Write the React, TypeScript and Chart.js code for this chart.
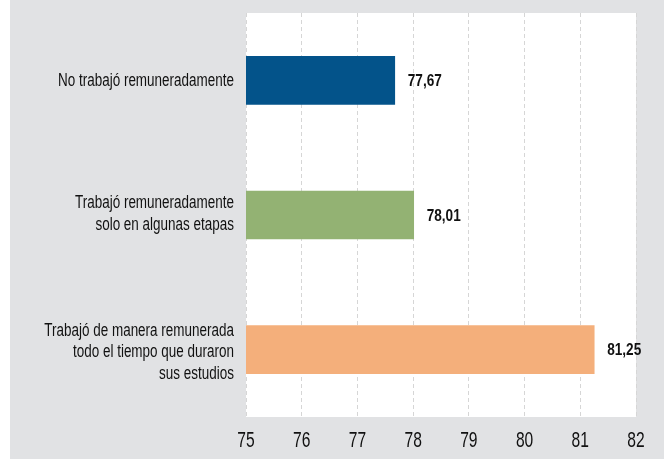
import React, { useEffect, useRef } from "react";
import { Chart, registerables } from "chart.js";

Chart.register(...registerables);

const categories: string[][] = [
  ["No trabajó remuneradamente"],
  ["Trabajó remuneradamente", "solo en algunas etapas"],
  ["Trabajó de manera remunerada", "todo el tiempo que duraron", "sus estudios"],
];
const values: number[] = [77.67, 78.01, 81.25];
const barColors: string[] = ["#03538a", "#93b273", "#f4af7b"];
const xMin = 75;
const xMax = 82;
const xTicks: number[] = [75, 76, 77, 78, 79, 80, 81, 82];

const FONT = "'Liberation Sans', Arial, sans-serif";

function drawCondensed(ctx: CanvasRenderingContext2D, text: string, x: number, y: number, sx: number) {
  ctx.save();
  ctx.translate(x, y);
  ctx.scale(sx, 1);
  ctx.fillText(text, 0, 0);
  ctx.restore();
}

export default function App() {
  const ref = useRef<HTMLCanvasElement | null>(null);

  useEffect(() => {
    if (!ref.current) return;
    const plotBg = {
      id: "plotBg",
      beforeDraw(chart: any) {
        const { ctx, chartArea } = chart;
        ctx.save();
        ctx.fillStyle = "#ffffff";
        ctx.fillRect(chartArea.left, chartArea.top, chartArea.right - chartArea.left, chartArea.bottom - chartArea.top);
        ctx.restore();
      },
    };
    const texts = {
      id: "texts",
      afterDatasetsDraw(chart: any) {
        const { ctx } = chart;
        const meta = chart.getDatasetMeta(0);
        const xs = chart.scales.x;
        const ys = chart.scales.y;
        ctx.save();
        ctx.fillStyle = "#111111";
        ctx.textBaseline = "middle";

        // value labels
        ctx.font = `bold 17px ${FONT}`;
        ctx.textAlign = "left";
        meta.data.forEach((el: any, i: number) => {
          const txt = values[i].toFixed(2).replace(".", ",");
          drawCondensed(ctx, txt, el.x + 13, el.y + 1, 0.8);
        });

        // category labels
        const blockShift = [0, -2, 2];
        ctx.font = `17.5px ${FONT}`;
        ctx.textAlign = "right";
        categories.forEach((lines, i) => {
          const cy = ys.getPixelForValue(i);
          const n = lines.length;
          lines.forEach((line, j) => {
            const y = cy + (j - (n - 1) / 2) * 21.5 + (blockShift[n - 1] || 0);
            drawCondensed(ctx, line, ys.right - 12, y + 1, 0.77);
          });
        });

        // x tick labels
        ctx.font = `22px ${FONT}`;
        ctx.textAlign = "center";
        xTicks.forEach((v) => {
          drawCondensed(ctx, String(v), xs.getPixelForValue(v), xs.top + 24, 0.71);
        });
        ctx.restore();
      },
    };
    const chart = new Chart(ref.current, {
      type: "bar",
      data: {
        labels: categories.map((c) => c.join(" ")),
        datasets: [
          {
            data: values,
            backgroundColor: barColors,
            borderWidth: 0,
            barThickness: 48,
          },
        ],
      },
      options: {
        indexAxis: "y",
        animation: false,
        responsive: false,
        maintainAspectRatio: false,
        layout: { padding: { top: 13, right: 28, left: 0, bottom: 0 } },
        plugins: { legend: { display: false }, tooltip: { enabled: false } },
        scales: {
          x: {
            min: xMin,
            max: xMax,
            ticks: { stepSize: 1, display: false },
            grid: {
              color: "#d6d6d6",
              drawTicks: false,
              tickBorderDash: [4, 3],
            },
            border: { display: false, dash: [4, 3] },
            afterFit(scale: any) {
              scale.height = 42;
              scale.paddingLeft = 0;
              scale.paddingRight = 0;
            },
          },
          y: {
            ticks: { display: false },
            grid: { display: false, drawTicks: false },
            border: { display: false },
            afterFit(scale: any) {
              scale.width = 236;
              scale.paddingTop = 0;
              scale.paddingBottom = 0;
            },
          },
        },
      },
      plugins: [plotBg, texts],
    });
    return () => chart.destroy();
  }, []);

  return (
    <div style={{ position: "absolute", left: 0, top: 0, width: 664, height: 459, background: "#ffffff" }}>
      <div style={{ position: "absolute", left: 10, top: 0, width: 654, height: 459, background: "#e1e2e4" }}>
        <canvas ref={ref} width={654} height={459} style={{ display: "block" }} />
      </div>
    </div>
  );
}
